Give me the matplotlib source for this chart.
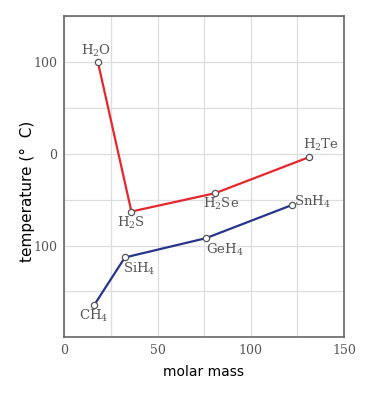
import matplotlib
matplotlib.use("Agg")
import matplotlib.pyplot as plt

# hydrides of group 16 (red) and group 14 (blue)
h16_names = [r"H$_2$O", r"H$_2$S", r"H$_2$Se", r"H$_2$Te"]
h16_mass = [18, 36, 81, 131]
h16_temp = [100, -63, -43, -4]

h14_names = [r"CH$_4$", r"SiH$_4$", r"GeH$_4$", r"SnH$_4$"]
h14_mass = [16, 32.5, 76, 122]
h14_temp = [-165, -113, -92, -56]

x_ticks = [0, 50, 100, 150]
y_ticks = [100, 0, -100]
y_tick_labels = ["100", "0", "100"]

# label offsets in points (dx, dy)
h16_offsets = [(-1, 8), (0, -8), (4.5, -8), (9, 9)]
h14_offsets = [(0, -8), (10, -8.5), (13.5, -8.5), (14.5, 2)]

plt.rcParams["mathtext.fontset"] = "dejavuserif"

fig = plt.figure(figsize=(3.78, 3.96), dpi=100)
ax = fig.add_axes([0.170, 0.148, 0.740, 0.812])

ax.plot(h16_mass, h16_temp, color="#e5262c", lw=1.6, zorder=3,
        marker="o", ms=4.5, mfc="white", mec="#555555", mew=0.9)
ax.plot(h14_mass, h14_temp, color="#27348b", lw=1.6, zorder=3,
        marker="o", ms=4.5, mfc="white", mec="#555555", mew=0.9)

for names, xs, ys, offs in [(h16_names, h16_mass, h16_temp, h16_offsets),
                            (h14_names, h14_mass, h14_temp, h14_offsets)]:
    for n, x, y, (dx, dy) in zip(names, xs, ys, offs):
        ax.annotate(n, (x, y), xytext=(dx, dy), textcoords="offset points",
                    ha="center", va="center", fontsize=9.5, color="#555555",
                    family="DejaVu Serif")

ax.set_xlim(0, 150)
ax.set_ylim(-200, 150)
ax.set_xticks(x_ticks)
ax.set_yticks(y_ticks)
ax.set_yticklabels(y_tick_labels)
ax.set_xticks(range(0, 151, 25), minor=True)
ax.set_yticks(range(-200, 151, 50), minor=True)
ax.grid(which="both", color="#dddddd", lw=0.9)
ax.set_axisbelow(True)
ax.tick_params(which="both", length=0, pad=5, labelsize=9, labelcolor="#555555")
for lab in ax.get_xticklabels() + ax.get_yticklabels():
    lab.set_family("DejaVu Serif")
for s in ax.spines.values():
    s.set_color("#666666")
    s.set_linewidth(1.2)

ax.set_xlabel("molar mass", fontsize=10, family="DejaVu Sans")
ax.set_ylabel("temperature (°  C)", fontsize=11, family="DejaVu Sans")
ax.xaxis.set_label_coords(0.498, -0.086)
ax.yaxis.set_label_coords(-0.103, 0.455)

fig.savefig("out.png", dpi=100)
